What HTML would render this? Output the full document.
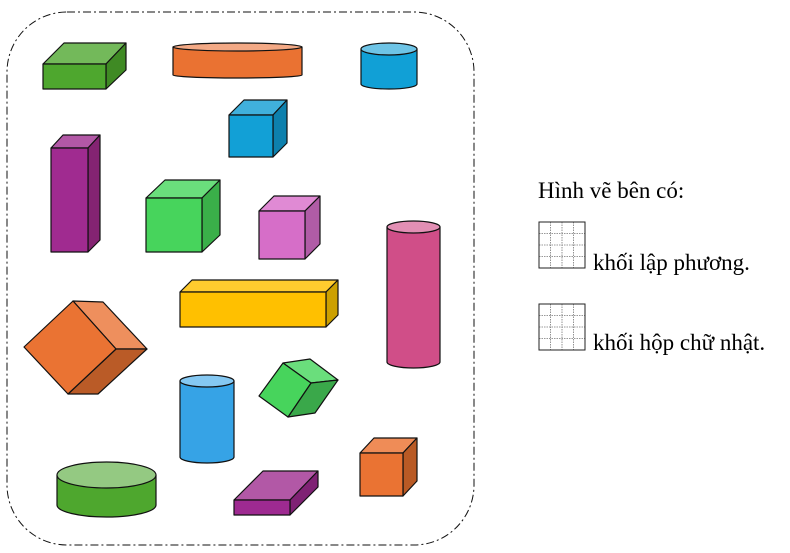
<!DOCTYPE html>
<html><head><meta charset="utf-8"><style>
body{margin:0;background:#fff;width:790px;height:553px;overflow:hidden}
svg{display:block}
text{font-family:"Liberation Serif",serif;font-size:23px;fill:#000}
</style></head><body>
<svg width="790" height="553" viewBox="0 0 790 553" xmlns="http://www.w3.org/2000/svg">
<rect x="7" y="12" width="467" height="533" rx="60" ry="60" fill="none" stroke="#111" stroke-width="1" stroke-dasharray="8 3 2 3"/>
<g stroke="#111" stroke-width="1.2" stroke-linejoin="round">
<polygon points="43,64 64,43 126,43 106,64" fill="#73b95a"/>
<polygon points="106,64 126,43 126,70 106,89" fill="#3f8a24"/>
<rect x="43" y="64" width="63" height="25" fill="#4ea72e"/>
<path d="M173,47 V75 A64.5,3 0 0 0 302,75 V47 Z" fill="#ea7232"/>
<ellipse cx="237.5" cy="47" rx="64.5" ry="4" fill="#f3a985"/>
<path d="M361,49 V84 A28,5 0 0 0 417,84 V49 Z" fill="#11a0d6"/>
<ellipse cx="389" cy="49" rx="28" ry="6" fill="#6ec4e6"/>
<polygon points="229,115 244,100 287,100 273,115" fill="#40b0dc"/>
<polygon points="273,115 287,100 287,143 273,157" fill="#0d80ad"/>
<rect x="229" y="115" width="44" height="42" fill="#12a0d6"/>
<polygon points="51,148 63,135 100,135 88,148" fill="#b258a6"/>
<polygon points="88,148 100,135 100,240 88,252" fill="#842372"/>
<rect x="51" y="148" width="37" height="104" fill="#a02b90"/>
<polygon points="146,198 165,180 220,180 202,198" fill="#6ade7c"/>
<polygon points="202,198 220,180 220,235 202,252" fill="#3aaf49"/>
<rect x="146" y="198" width="56" height="54" fill="#47d45c"/>
<polygon points="259,211 274,196 320,196 305,211" fill="#e08ad4"/>
<polygon points="305,211 320,196 320,244 305,259" fill="#b05ca6"/>
<rect x="259" y="211" width="46" height="48" fill="#d66ec8"/>
<path d="M387,227 V362 A26.5,6 0 0 0 440,362 V227 Z" fill="#d04e88"/>
<ellipse cx="413.5" cy="227" rx="26.5" ry="6" fill="#e28fb4"/>
<polygon points="180,292 192,280 338,280 326,292" fill="#ffcb2e"/>
<polygon points="326,292 338,280 338,315 326,327" fill="#cca000"/>
<rect x="180" y="292" width="146" height="35" fill="#ffc000"/>
<polygon points="73,301 103,302 147,349 116,349" fill="#ee8f5d"/>
<polygon points="116,349 147,349 98,394 68,394" fill="#ba5b27"/>
<polygon points="24,347 73,301 116,349 68,394" fill="#ea7333"/>
<path d="M180,381 V457 A27,6 0 0 0 234,457 V381 Z" fill="#36a3e6"/>
<ellipse cx="207" cy="381" rx="27" ry="6" fill="#85c8f2"/>
<polygon points="283,363 310,359 338,380 311,383" fill="#6ade7c"/>
<polygon points="311,383 338,380 315,413 288,417" fill="#3aa84a"/>
<polygon points="259,396 283,363 311,383 288,417" fill="#47d45c"/>
<path d="M57,475 V505 A49.5,12 0 0 0 156,505 V475 Z" fill="#4ea72e"/>
<ellipse cx="106.5" cy="475" rx="49.5" ry="13" fill="#94c982"/>
<polygon points="234,500 263,471 318,471 290,500" fill="#b258a6"/>
<polygon points="290,500 318,471 318,487 290,515" fill="#7f2274"/>
<rect x="234" y="500" width="56" height="15" fill="#9e2a91"/>
<polygon points="360,453 374,438 417,438 403,453" fill="#ef8c57"/>
<polygon points="403,453 417,438 417,481 403,496" fill="#b95a25"/>
<rect x="360" y="453" width="43" height="43" fill="#ea7333"/>
</g>
<text x="538" y="198">Hình vẽ bên có:</text>
<g stroke="#777" stroke-width="0.8" stroke-dasharray="1.5 1" fill="none">
<path d="M550.5,222V268M562,222V268M573.5,222V268M539,233.5H585M539,245H585M539,256.5H585"/>
<path d="M550.5,304V350M562,304V350M573.5,304V350M539,315.5H585M539,327H585M539,338.5H585"/>
</g>
<rect x="539" y="222" width="46" height="46" fill="none" stroke="#222" stroke-width="1"/>
<text x="593" y="270">khối lập phương.</text>
<rect x="539" y="304" width="46" height="46" fill="none" stroke="#222" stroke-width="1"/>
<text x="593" y="350">khối hộp chữ nhật.</text>
</svg>
</body></html>
